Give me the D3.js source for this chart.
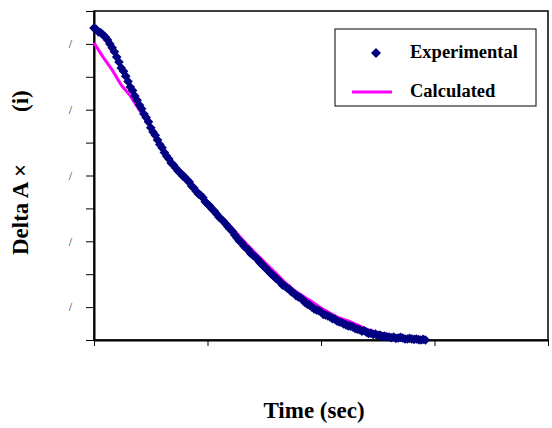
<!DOCTYPE html>
<html>
<head>
<meta charset="utf-8">
<script src="https://cdn.jsdelivr.net/npm/d3@7"></script>
<style>
body { margin: 0; background: #fff; }
#canvas text { font-family: "Liberation Serif", "Times New Roman", serif; }
</style>
</head>
<body>
<div id="canvas"></div>
<script>
// ----------------------------------------------------------
// DATA -----------------------------------------------------
// ----------------------------------------------------------
var exp_time = [0, 2, 4, 6, 8, 10, 12, 14, 16, 18, 20, 22, 24, 26, 28, 30, 32, 34, 36, 38,
40, 42, 44, 46, 48, 50, 52, 54, 56, 58, 60, 62, 64, 66, 68, 70, 72, 74, 76, 78,
80, 82, 84, 86, 88, 90, 92, 94, 96, 98, 100, 102, 104, 106, 108, 110, 112, 114, 116, 118,
120, 122, 124, 126, 128, 130, 132, 134, 136, 138, 140, 142, 144, 146, 148, 150, 152, 154, 156, 158,
160, 162, 164, 166, 168, 170, 172, 174, 176, 178, 180, 182, 184, 186, 188, 190, 192, 194, 196, 198,
200, 202, 204, 206, 208, 210, 212, 214, 216, 218, 220, 222, 224, 226, 228, 230, 232, 234, 236, 238,
240, 242, 244, 246, 248, 250, 252, 254, 256, 258, 260, 262, 264, 266, 268, 270, 272, 274, 276, 278,
280, 282, 284, 286, 288, 290, 292];
var exp_value = [0.948, 0.944, 0.936, 0.934, 0.927, 0.921, 0.912, 0.900, 0.888, 0.876,
0.860, 0.845, 0.827, 0.817, 0.802, 0.786, 0.769, 0.758, 0.742, 0.729,
0.714, 0.703, 0.687, 0.676, 0.663, 0.645, 0.632, 0.622, 0.608, 0.594,
0.584, 0.570, 0.559, 0.550, 0.538, 0.532, 0.523, 0.514, 0.508, 0.499,
0.495, 0.486, 0.480, 0.468, 0.462, 0.452, 0.444, 0.440, 0.432, 0.420,
0.413, 0.407, 0.398, 0.392, 0.383, 0.374, 0.368, 0.361, 0.353, 0.344,
0.337, 0.330, 0.319, 0.310, 0.301, 0.296, 0.286, 0.279, 0.274, 0.263,
0.258, 0.252, 0.246, 0.236, 0.231, 0.222, 0.216, 0.208, 0.201, 0.196,
0.188, 0.183, 0.176, 0.167, 0.164, 0.158, 0.155, 0.146, 0.143, 0.135,
0.131, 0.128, 0.122, 0.113, 0.109, 0.106, 0.100, 0.094, 0.091, 0.089,
0.085, 0.078, 0.076, 0.073, 0.070, 0.065, 0.064, 0.058, 0.055, 0.053,
0.049, 0.046, 0.043, 0.042, 0.040, 0.035, 0.033, 0.031, 0.027, 0.028,
0.024, 0.020, 0.021, 0.017, 0.018, 0.014, 0.015, 0.011, 0.012, 0.010,
0.009, 0.007, 0.009, 0.005, 0.006, 0.008, 0.006, 0.003, 0.003, 0.005,
0.003, 0.002, 0.003, 0.001, 0.000, 0.002, 0.000];

var calc_time = [0, 8, 16, 24, 32, 40, 48, 56, 64, 72, 80, 88, 96, 104, 112, 120, 128, 136,
144, 152, 160, 168, 176, 184, 192, 200, 208, 216, 224, 232, 240, 248, 256, 264, 272, 280];
var calc_value = [0.903, 0.860, 0.821, 0.775, 0.742, 0.699, 0.657, 0.608, 0.562, 0.526,
0.495, 0.465, 0.435, 0.404, 0.374, 0.347, 0.316, 0.286, 0.258, 0.231,
0.204, 0.176, 0.152, 0.134, 0.116, 0.097, 0.082, 0.067, 0.058, 0.046,
0.033, 0.024, 0.018, 0.012, 0.009, 0.006];

var x_ticks = [0, 100, 200, 300, 400];
var y_ticks = [0, 0.1, 0.2, 0.3, 0.4, 0.5, 0.6, 0.7, 0.8, 0.9, 1.0];
var y_tick_labels = ["", "/", "", "/", "", "/", "", "/", "", "/", ""];

var series_names = ["Experimental", "Calculated"];




// ----------------------------------------------------------
// STRUCTURE ------------------------------------------------
// ----------------------------------------------------------
var svg_width = 552;
var svg_height = 428;
var margin = { top: 11, left: 94 };
var width = 454;
var height = 329;

var container = d3.select("#canvas").append("svg")
.attr("width", svg_width)
.attr("height", svg_height)
.style("background-color", "#fff");

var gfx_diagram = container.append("g")
.attr("transform", `translate(${margin.left}, ${margin.top})`);

// scales
var xScale = d3.scaleLinear().domain([0, 400]).range([0, width]);
var yScale = d3.scaleLinear().domain([0, 1]).range([height, 0]);




// ----------------------------------------------------------
// AXES -----------------------------------------------------
// ----------------------------------------------------------
// plot frame
gfx_diagram.append("rect")
.attr("x", 0)
.attr("y", 0)
.attr("width", width)
.attr("height", height)
.attr("fill", "none")
.attr("stroke", "#000")
.attr("stroke-width", 1.5);

var axis_left = gfx_diagram.append("g")
.call(d3.axisLeft(yScale)
.tickValues(y_ticks)
.tickSizeInner(8)
.tickSizeOuter(0)
.tickPadding(14)
.tickFormat((d, i) => y_tick_labels[i]));

var axis_bottom = gfx_diagram.append("g")
.attr("transform", `translate(0, ${height})`)
.call(d3.axisBottom(xScale)
.tickValues(x_ticks)
.tickSizeInner(6)
.tickSizeOuter(0)
.tickFormat(""));

[axis_left, axis_bottom].forEach(function (ax) {
ax.select(".domain").attr("stroke", "#000").attr("stroke-width", 2);
ax.selectAll(".tick line").attr("stroke", "#000").attr("stroke-width", 1);
});
axis_left.selectAll(".tick text")
.style("font-size", "12px")
.attr("fill", "#222");




// ----------------------------------------------------------
// SERIES ---------------------------------------------------
// ----------------------------------------------------------
var calc_data = calc_time.map((t, i) => ({ t: t, v: calc_value[i] }));
var exp_data = exp_time.map((t, i) => ({ t: t, v: exp_value[i] }));

var line = d3.line()
.x((d) => xScale(d.t))
.y((d) => yScale(d.v));

gfx_diagram.append("path")
.datum(calc_data)
.attr("d", line)
.attr("fill", "none")
.attr("stroke", "#ff00ff")
.attr("stroke-width", 3);

var diamond = (r) => `M0,${-r}L${r},0L0,${r}L${-r},0Z`;

gfx_diagram.selectAll(".marker")
.data(exp_data)
.enter()
.append("path")
.attr("class", "marker")
.attr("transform", (d) => `translate(${xScale(d.t)}, ${yScale(d.v)})`)
.attr("d", diamond(4.8))
.attr("fill", "#000080");




// ----------------------------------------------------------
// LEGEND ---------------------------------------------------
// ----------------------------------------------------------
var legend = container.append("g")
.attr("transform", "translate(335, 29)");

legend.append("rect")
.attr("width", 201)
.attr("height", 77)
.attr("fill", "#fff")
.attr("stroke", "#000")
.attr("stroke-width", 1);

legend.append("path")
.attr("transform", "translate(41, 24)")
.attr("d", diamond(5))
.attr("fill", "#000080");

legend.append("line")
.attr("x1", 17).attr("x2", 57)
.attr("y1", 63).attr("y2", 63)
.attr("stroke", "#ff00ff")
.attr("stroke-width", 3);

legend.selectAll(".legend_text")
.data(series_names)
.enter()
.append("text")
.attr("x", 75)
.attr("y", (d, i) => 29 + i * 39)
.style("font-size", "18.5px")
.style("font-weight", "bold")
.text((d) => d);




// ----------------------------------------------------------
// TITLES ---------------------------------------------------
// ----------------------------------------------------------
container.append("text")
.attr("x", 314)
.attr("y", 418)
.attr("text-anchor", "middle")
.style("font-size", "23px")
.style("font-weight", "bold")
.text("Time (sec)");

container.append("text")
.attr("transform", "translate(28, 255) rotate(-90)")
.style("font-size", "23px")
.style("font-weight", "bold")
.text("Delta A ×");

container.append("text")
.attr("transform", "translate(28, 112) rotate(-90)")
.style("font-size", "23px")
.style("font-weight", "bold")
.text("(i)");
</script>
</body>
</html>
